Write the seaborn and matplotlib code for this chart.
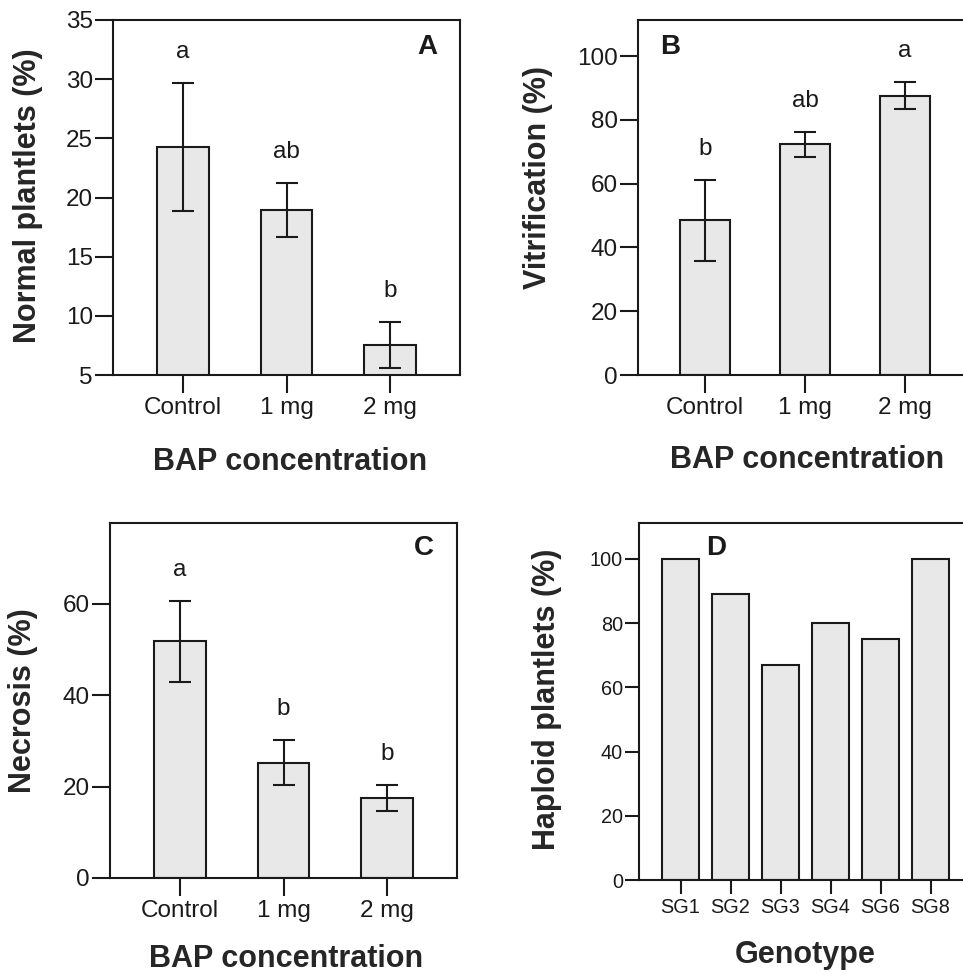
import matplotlib
matplotlib.use("Agg")
import matplotlib.pyplot as plt
import seaborn as sns
import numpy as np

# ---------------- data ----------------
bap_levels = ["Control", "1 mg", "2 mg"]

normal_mean = [24.3, 18.95, 7.55]
normal_lo = [18.9, 16.65, 5.6]
normal_hi = [29.7, 21.25, 9.45]
normal_letters = ["a", "ab", "b"]

vitri_mean = [48.6, 72.3, 87.6]
vitri_lo = [35.8, 68.4, 83.3]
vitri_hi = [61.1, 76.1, 91.9]
vitri_letters = ["b", "ab", "a"]

necro_mean = [51.8, 25.2, 17.5]
necro_lo = [42.9, 20.4, 14.6]
necro_hi = [60.6, 30.1, 20.3]
necro_letters = ["a", "b", "b"]

genotypes = ["SG1", "SG2", "SG3", "SG4", "SG6", "SG8"]
haploid = [100, 89, 67, 80, 75, 100]

# ---------------- style ----------------
sns.set_style("ticks")
plt.rcParams["font.family"] = ["Liberation Sans", "DejaVu Sans"]
plt.rcParams["axes.linewidth"] = 1.5
plt.rcParams["axes.edgecolor"] = "#1a1a1a"
plt.rcParams["text.color"] = "#1a1a1a"
plt.rcParams["xtick.color"] = "#1a1a1a"
plt.rcParams["ytick.color"] = "#1a1a1a"

FILL = "#e8e8e8"
EDGE = "#1a1a1a"

fig = plt.figure(figsize=(9.63, 9.75), dpi=100)


def panel(rect, cats, means, lo, hi, letters, ylabel, xlabel, ylim, yticks,
          tag, tag_xy, ylab_xy, xlab_xy, width=0.5, xlim=(-0.67, 2.67),
          tick_fs=17.5, tick_len=13):
    ax = fig.add_axes(rect)
    sns.barplot(x=cats, y=means, ax=ax, color=FILL, edgecolor=EDGE,
                linewidth=1.5, width=width, errorbar=None, saturation=1)
    pos = np.arange(len(cats))
    if lo is not None:
        m = np.array(means)
        yerr = [m - np.array(lo), np.array(hi) - m]
        ax.errorbar(pos, m, yerr=yerr, fmt="none", ecolor=EDGE,
                    elinewidth=1.5, capsize=8, capthick=1.5, zorder=5)
        for p, h, t in zip(pos, hi, letters):
            ax.annotate(t, (p, h), xytext=(0, 18), textcoords="offset points",
                        ha="center", va="baseline", fontsize=17.5)
    ax.set_xlim(*xlim)
    ax.set_ylim(*ylim)
    ax.set_yticks(yticks)
    ax.tick_params(axis="both", length=tick_len, width=1.5,
                   labelsize=tick_fs, direction="out")
    ax.tick_params(axis="y", pad=1.5)
    ax.tick_params(axis="x", pad=3)
    for s in ax.spines.values():
        s.set_visible(True)
        s.set_linewidth(1.5)
    ax.set_ylabel(ylabel, fontsize=22, fontweight="bold", va="center")
    ax.set_xlabel(xlabel, fontsize=22, fontweight="bold", va="center")
    ax.yaxis.set_label_coords(*ylab_xy)
    ax.xaxis.set_label_coords(*xlab_xy)
    ax.text(tag_xy[0], tag_xy[1], tag, fontsize=20, fontweight="bold",
            ha="center", va="center")
    return ax


# Panel A
panel([113 / 963, 1 - 375 / 975, 347 / 963, 355 / 975], bap_levels,
      normal_mean, normal_lo, normal_hi, normal_letters,
      "Normal plantlets (%)", "BAP concentration", (5, 35),
      [5, 10, 15, 20, 25, 30, 35], "A", (2.36, 32.7),
      (-0.245, 0.504), (0.51, -0.245))

# Panel B
panel([638 / 963, 1 - 375 / 975, 334 / 963, 355 / 975], bap_levels,
      vitri_mean, vitri_lo, vitri_hi, vitri_letters,
      "Vitrification (%)", "BAP concentration", (0, 111.3),
      [0, 20, 40, 60, 80, 100], "B", (-0.35, 102.8),
      (-0.299, 0.557), (0.506, -0.239))

# Panel C
panel([110 / 963, 1 - 878 / 975, 347 / 963, 355 / 975], bap_levels,
      necro_mean, necro_lo, necro_hi, necro_letters,
      "Necrosis (%)", "BAP concentration", (0, 77.7),
      [0, 20, 40, 60], "C", (2.35, 72.3),
      (-0.251, 0.501), (0.507, -0.228))

# Panel D
panel([639 / 963, 1 - 880 / 975, 333 / 963, 357 / 975], genotypes,
      haploid, None, None, None,
      "Haploid plantlets (%)", "Genotype", (0, 111.2),
      [0, 20, 40, 60, 80, 100], "D", (0.71, 103.4),
      (-0.276, 0.507), (0.498, -0.21), width=0.75, xlim=(-0.83, 5.83),
      tick_fs=14.3, tick_len=10)

fig.savefig("out.png", dpi=100)
